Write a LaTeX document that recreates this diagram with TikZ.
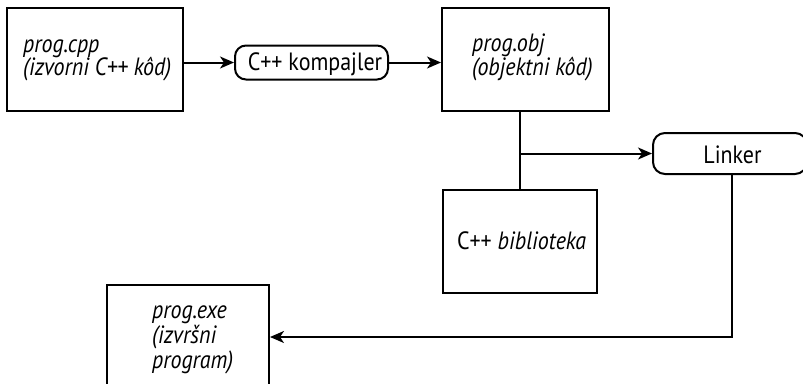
\documentclass[tikz,border=0pt]{standalone}
\usepackage{fontspec}
\setmainfont{PT Sans}
\newfontfamily\upf[FakeStretch=0.88]{PT Sans}
\newfontfamily\itf[FakeStretch=0.88]{PT Sans Italic}
\usetikzlibrary{arrows.meta}
\tikzset{
  box/.style={draw, line width=2pt, inner sep=0pt, minimum width=#1},
  rbox/.style={draw, line width=2pt, rounded corners=11pt, inner sep=0pt},
  it/.style={inner sep=0pt, anchor=base west, font=\fontsize{25}{25}\selectfont\itf},
  up/.style={inner sep=0pt, anchor=base, font=\fontsize{25}{25}\selectfont\upf},
  conn/.style={line width=2pt},
  arr/.style={conn, -{Stealth[length=14pt,width=12pt,inset=4pt]}},
}
\begin{document}
\begin{tikzpicture}[x=1pt,y=-1pt]
\clip (0,0) rectangle (803,383);
\node[box=176pt, minimum height=103pt] (src) at (94.5,59.5) {};
\node[rbox, minimum width=153pt, minimum height=34pt] (comp) at (311.5,62.5) {};
\node[box=167pt, minimum height=103pt] (obj) at (525.5,59.5) {};
\node[box=154pt, minimum height=103pt] (lib) at (520,241.5) {};
\node[rbox, rounded corners=12pt, minimum width=154pt, minimum height=41pt] (link) at (730,153.5) {};
\node[box=162pt, minimum height=104pt] (exe) at (188,337) {};

\node[it] (src1) at (23,52) {prog.cpp};
\node[it] (src2) at (23,75) {(izvorni C++ kôd)};
\node[it] (obj1) at (472,51) {prog.obj};
\node[it] (obj2) at (472,75) {(objektni kôd)};
\node[it] (exe1) at (152,318) {prog.exe};
\node[it] (exe2) at (152,343) {(izvršni};
\node[it] (exe3) at (152,368) {program)};
\node[up] (compt) at (315,70) {C++ kompajler};
\node[up] (libt) at (521.5,249) {C++ {\itf biblioteka}};
\node[up] (linkt) at (732.5,163) {Linker};

\draw[arr] (src.east |- comp.west) -- (comp.west);
\draw[arr] (comp.east) -- (comp.east -| obj.west);
\draw[conn] (lib.north) -- (lib.north |- obj.south);
\draw[arr] (link.west -| lib.north) -- (link.west);
\draw[arr] ([xshift=1.5pt]link.south) |- (exe.east);
\end{tikzpicture}
\end{document}
